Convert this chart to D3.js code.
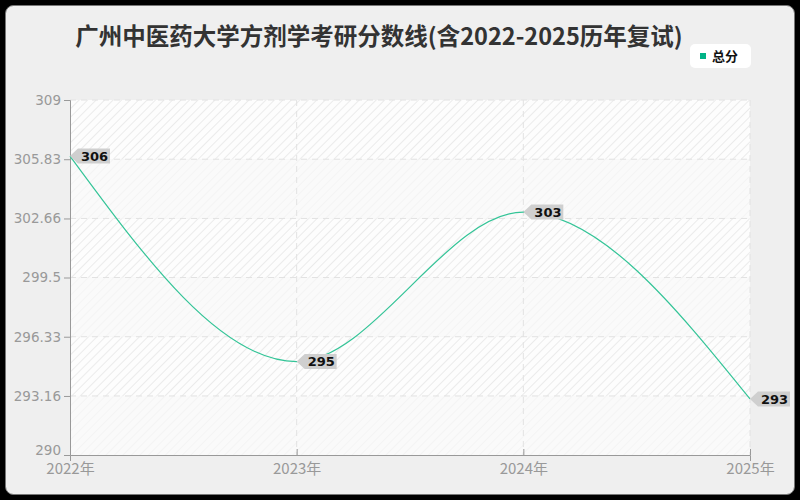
<!DOCTYPE html>
<html>
<head>
<meta charset="utf-8">
<script src="https://cdn.jsdelivr.net/npm/d3@7"></script>
<style>
  html, body { margin: 0; padding: 0; background: #000; }
  svg { display: block; font-family: "Noto Sans CJK SC", "Noto Sans", sans-serif; }
</style>
</head>
<body>
<div id="chart"></div>
<script>
const years = ['2022年', '2023年', '2024年', '2025年'];
const scores = [306, 295, 303, 293];
const yTicks = [290, 293.16, 296.33, 299.5, 302.66, 305.83, 309];
const seriesName = '总分';
const title = '广州中医药大学方剂学考研分数线(含2022-2025历年复试)';

const width = 800, height = 500;
const margin = { top: 100, right: 50, bottom: 45, left: 70 };
const w = width - margin.left - margin.right;
const h = height - margin.top - margin.bottom;
const lineColor = '#33c497';

const svg = d3.select('#chart').append('svg').attr('width', width).attr('height', height);

// frame
svg.append('rect').attr('x', 5.5).attr('y', 5.5).attr('width', width - 11).attr('height', height - 11)
  .attr('rx', 8).style('fill', '#efefef').style('stroke', '#777').style('stroke-width', 1);

const defs = svg.append('defs');
const pat = defs.append('pattern').attr('id', 'hatch').attr('patternUnits', 'userSpaceOnUse')
  .attr('width', 6).attr('height', 6).attr('patternTransform', 'rotate(45)');
pat.append('rect').attr('width', 6).attr('height', 6).style('fill', '#fdfdfd');
pat.append('line').attr('x1', 0).attr('y1', 0).attr('x2', 0).attr('y2', 6)
  .style('stroke', '#e6e6e6').style('stroke-width', 1.5);
const pat2 = defs.append('pattern').attr('id', 'hatch2').attr('patternUnits', 'userSpaceOnUse')
  .attr('width', 6).attr('height', 6).attr('patternTransform', 'rotate(45)');
pat2.append('rect').attr('width', 6).attr('height', 6).style('fill', '#fafafa');
pat2.append('line').attr('x1', 0).attr('y1', 0).attr('x2', 0).attr('y2', 6)
  .style('stroke', '#f3f3f3').style('stroke-width', 1.5);

const g = svg.append('g').attr('transform', `translate(${margin.left},${margin.top})`);

const x = d3.scalePoint().domain(years).range([0, w]);
const y = d3.scaleLinear().domain([yTicks[0], yTicks[yTicks.length - 1]]).range([h, 0]);

// Bands
for (let i = 0; i < yTicks.length - 1; i++) {
  const y0 = y(yTicks[i]), y1 = y(yTicks[i + 1]);
  g.append('rect').attr('x', 0).attr('y', y1).attr('width', w).attr('height', y0 - y1)
    .style('fill', i % 2 === 0 ? 'url(#hatch2)' : 'url(#hatch)');
}

// Grid
yTicks.slice(1).forEach(t => {
  g.append('line').attr('x1', 0).attr('x2', w).attr('y1', y(t)).attr('y2', y(t))
    .style('stroke', '#e2e2e2').style('stroke-width', 1).style('stroke-dasharray', '6,5');
});
years.slice(1).forEach(yr => {
  g.append('line').attr('x1', x(yr)).attr('x2', x(yr)).attr('y1', 0).attr('y2', h)
    .style('stroke', '#e2e2e2').style('stroke-width', 1).style('stroke-dasharray', '6,5');
});

// Axes
const yAxis = g.append('g')
  .call(d3.axisLeft(y).tickValues(yTicks).tickSize(6).tickPadding(3).tickFormat(d => d));
const xAxis = g.append('g').attr('transform', `translate(0,${h})`)
  .call(d3.axisBottom(x).tickSize(6).tickPadding(0));
[yAxis, xAxis].forEach(a => {
  a.select('.domain').style('stroke', '#999');
  a.selectAll('.tick line').style('stroke', '#999');
  a.selectAll('.tick text').style('fill', '#999');
});
yAxis.selectAll('.tick text').style('font-size', '13.5px')
  .style('font-family', '"DejaVu Sans", sans-serif');
// lowest y label lifted so it clears the first year label
yAxis.selectAll('.tick text').filter(d => d === yTicks[0]).attr('y', -5);
xAxis.selectAll('.tick text').style('font-size', '15px')
  .style('font-family', '"Noto Sans CJK SC", "Noto Sans", sans-serif');
xAxis.selectAll('.tick line').attr('y2', 6).attr('transform', 'translate(0,-6)');
xAxis.selectAll('.tick text').attr('dy', '0.75em').attr('y', 8);

// Line
const data = years.map((yr, i) => ({ yr, v: scores[i] }));
g.append('path').datum(data)
  .attr('d', d3.line().x(d => x(d.yr)).y(d => y(d.v)).curve(d3.curveMonotoneX))
  .style('fill', 'none').style('stroke', lineColor).style('stroke-width', 1.2);

// Labels
data.forEach(d => {
  const px = x(d.yr), py = y(d.v);
  const lg = g.append('g').attr('transform', `translate(${px},${py})`);
  lg.append('path').attr('d', 'M0,0 L8,-7.5 L40,-7.5 L40,7.5 L8,7.5 Z')
    .style('fill', '#cfcfcf');
  lg.append('text').attr('x', 11).attr('y', 0).attr('dy', '0.35em')
    .style('font-size', '13px').style('font-weight', 'bold').style('fill', '#111')
    .style('font-family', '"DejaVu Sans", sans-serif')
    .text(d.v);
});

// Title
svg.append('text').attr('x', 379).attr('y', 45).attr('text-anchor', 'middle')
  .style('font-size', '23.5px').style('font-weight', 'bold').style('fill', '#333')
  .text(title);

// Legend
const leg = svg.append('g').attr('transform', 'translate(690,44)');
leg.append('rect').attr('width', 61).attr('height', 24).attr('rx', 5).style('fill', '#fff');
leg.append('rect').attr('x', 10).attr('y', 9).attr('width', 6).attr('height', 6).style('fill', '#00b386');
leg.append('text').attr('x', 22).attr('y', 12).attr('dy', '0.35em')
  .style('font-size', '13px').style('font-weight', 'bold').style('fill', '#111').text(seriesName);
</script>
</body>
</html>
